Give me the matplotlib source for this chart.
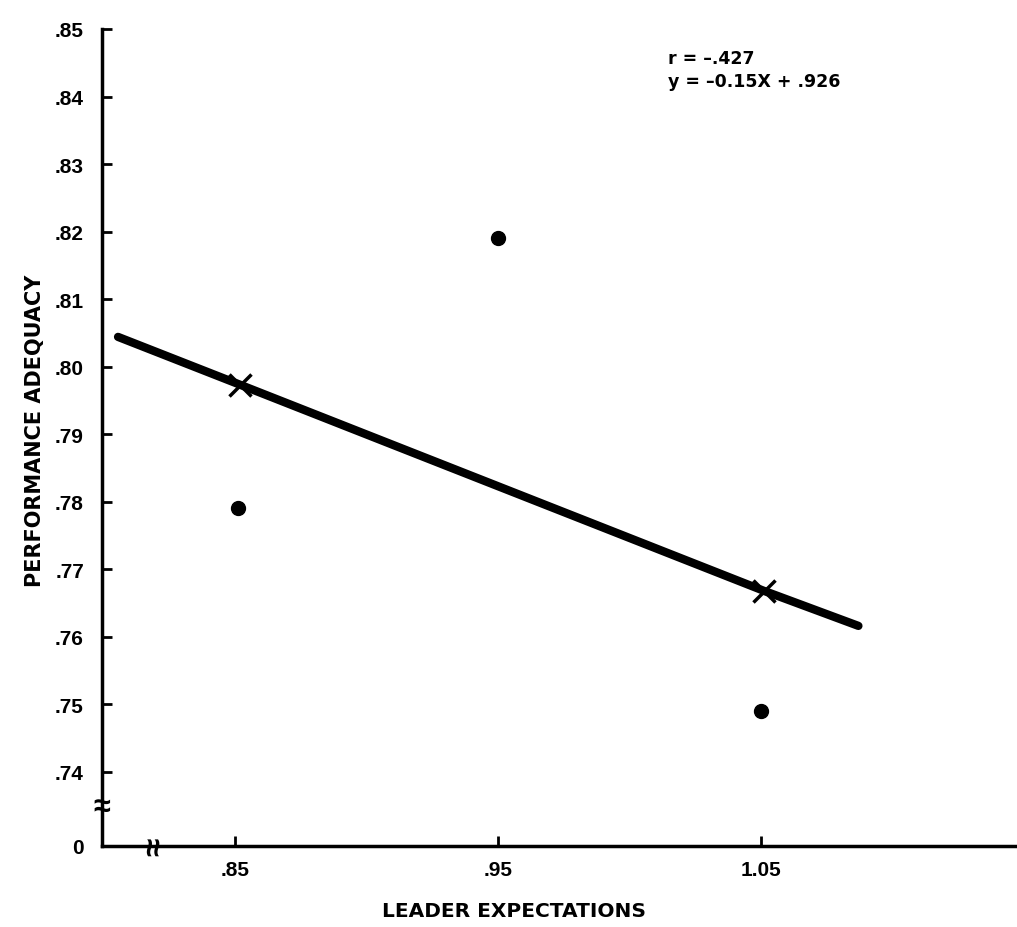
import matplotlib
matplotlib.use("Agg")
import matplotlib.pyplot as plt

# ---- data ----
dots_x = [0.851, 0.950, 1.050]
dots_y = [0.779, 0.819, 0.749]
cross_x = [0.852, 1.051]
cross_y = [0.7973, 0.7668]
line_x = [0.8055, 0.852, 1.051, 1.087]
line_y = [0.8044, 0.7973, 0.7668, 0.7616]

xticks = [0.85, 0.95, 1.05]
xticklabels = [".85", ".95", "1.05"]
yticks = [0.729, 0.74, 0.75, 0.76, 0.77, 0.78, 0.79, 0.80, 0.81, 0.82, 0.83, 0.84, 0.85]
yticklabels = ["0", ".74", ".75", ".76", ".77", ".78", ".79", ".80", ".81", ".82", ".83", ".84", ".85"]

annot_lines = ["r = \u2013.427", "y = \u20130.15X + .926"]
xlabel = "LEADER EXPECTATIONS"
ylabel = "PERFORMANCE ADEQUACY"

plt.rcParams['font.family'] = ['Liberation Sans', 'DejaVu Sans']
plt.rcParams['font.weight'] = 'bold'
wide = ['DejaVu Sans']

fig = plt.figure(figsize=(10.17, 9.28), dpi=100)
ax = fig.add_axes([102/1017, 1 - 847/928, 1 - 102/1017, (847 - 30)/928])

ax.plot(line_x, line_y, color='black', lw=6, solid_capstyle='round', zorder=3)
ax.plot(cross_x, cross_y, ls='none', marker='x', ms=16, mew=2.5, color='black', zorder=4)
ax.plot(dots_x, dots_y, ls='none', marker='o', ms=10, color='black', zorder=4)

ax.set_xlim(0.7994, 1.1473)
ax.set_ylim(0.729, 0.85)

for s in ['top', 'right']:
    ax.spines[s].set_visible(False)
for s in ['left', 'bottom']:
    ax.spines[s].set_linewidth(2.5)

ax.set_xticks(xticks)
ax.set_xticklabels(xticklabels, fontsize=15, fontweight='bold')
ax.set_yticks(yticks)
ax.set_yticklabels(yticklabels, fontsize=15, fontweight='bold')
ax.tick_params(axis='both', direction='in', length=7, width=2)
ax.tick_params(axis='y', pad=13)
ax.tick_params(axis='x', pad=10)
ax.yaxis.get_major_ticks()[0].tick1line.set_visible(False)

ax.set_xlabel(xlabel, fontsize=14.5, fontweight='bold', family=wide)
ax.xaxis.set_label_coords(0.45, -0.067)
ax.set_ylabel(ylabel, fontsize=15, fontweight='bold', family=wide)
ax.yaxis.set_label_coords(-0.062, 0.509)

ax.text(0.619, 0.975, annot_lines[0], transform=ax.transAxes, fontsize=12.5,
        fontweight='bold', family=wide, va='top', ha='left')
ax.text(0.619, 0.947, annot_lines[1], transform=ax.transAxes, fontsize=12.5,
        fontweight='bold', family=wide, va='top', ha='left')

# axis break symbols
ax.text(0.0, 0.7348, "\u2248", transform=ax.get_yaxis_transform(), fontsize=22,
        ha='center', va='center', fontweight='bold', clip_on=False, zorder=5)
ax.text(0.8196, 0.0, "\u2248", transform=ax.get_xaxis_transform(), fontsize=24,
        ha='center', va='center', rotation=90, fontweight='bold', clip_on=False, zorder=5)

fig.savefig("out.png", dpi=100)
